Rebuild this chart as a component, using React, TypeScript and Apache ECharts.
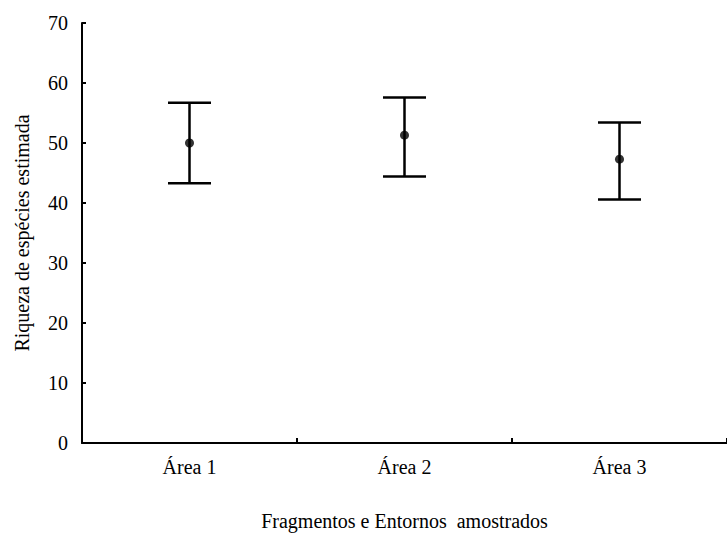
import React, { useEffect, useRef } from "react";
import * as echarts from "echarts";

const categories = ["Área 1", "Área 2", "Área 3"];
const means = [50.0, 51.3, 47.3];
const upper = [56.7, 57.6, 53.4];
const lower = [43.3, 44.4, 40.6];
const yTicks = [0, 10, 20, 30, 40, 50, 60, 70];

const FONT = "Liberation Serif";

export default function App() {
  const ref = useRef<HTMLDivElement>(null);
  useEffect(() => {
    if (!ref.current) return;
    const chart = echarts.init(ref.current, undefined, { renderer: "svg" });
    const errData = categories.map((c, i) => [i, lower[i], upper[i]]);
    chart.setOption({
      animation: false,
      backgroundColor: "#fff",
      grid: { left: 82, right: 0, top: 23, bottom: 89, containLabel: false },
      xAxis: {
        type: "category",
        data: categories,
        boundaryGap: true,
        name: "Fragmentos e Entornos  amostrados",
        nameLocation: "middle",
        nameGap: 68,
        nameTextStyle: { fontFamily: FONT, fontSize: 20, color: "#000" },
        axisLine: { lineStyle: { color: "#000", width: 2 } },
        axisTick: { show: true, inside: true, length: 5, lineStyle: { color: "#000", width: 2 } },
        axisLabel: { fontFamily: FONT, fontSize: 20, color: "#000", margin: 14 },
        splitLine: { show: false },
      },
      yAxis: {
        type: "value",
        min: yTicks[0],
        max: yTicks[yTicks.length - 1],
        interval: 10,
        name: "Riqueza de espécies estimada",
        nameLocation: "middle",
        nameGap: 50,
        nameRotate: 90,
        nameTextStyle: { fontFamily: FONT, fontSize: 20, color: "#000" },
        axisLine: { show: true, lineStyle: { color: "#000", width: 2 } },
        axisTick: { show: true, inside: true, length: 4, lineStyle: { color: "#000", width: 2 } },
        axisLabel: { fontFamily: FONT, fontSize: 20, color: "#000", margin: 14 },
        splitLine: { show: false },
      },
      series: [
        {
          type: "custom",
          data: errData,
          renderItem: (params: any, api: any) => {
            const x = api.value(0);
            const lo = api.coord([x, api.value(1)]);
            const hi = api.coord([x, api.value(2)]);
            const half = 21.5;
            const style = { stroke: "#000", lineWidth: 2.5 };
            return {
              type: "group",
              children: [
                { type: "line", shape: { x1: lo[0], y1: lo[1], x2: hi[0], y2: hi[1] }, style },
                { type: "line", shape: { x1: hi[0] - half, y1: hi[1], x2: hi[0] + half, y2: hi[1] }, style },
                { type: "line", shape: { x1: lo[0] - half, y1: lo[1], x2: lo[0] + half, y2: lo[1] }, style },
              ],
            };
          },
          z: 2,
        },
        {
          type: "scatter",
          data: means,
          symbol: "circle",
          symbolSize: 9,
          itemStyle: { color: "#000" },
          z: 3,
        },
      ],
    });
    return () => chart.dispose();
  }, []);
  return (
    <div
      ref={ref}
      style={{ position: "fixed", left: 0, top: 0, width: 727, height: 536, background: "#fff" }}
    />
  );
}
